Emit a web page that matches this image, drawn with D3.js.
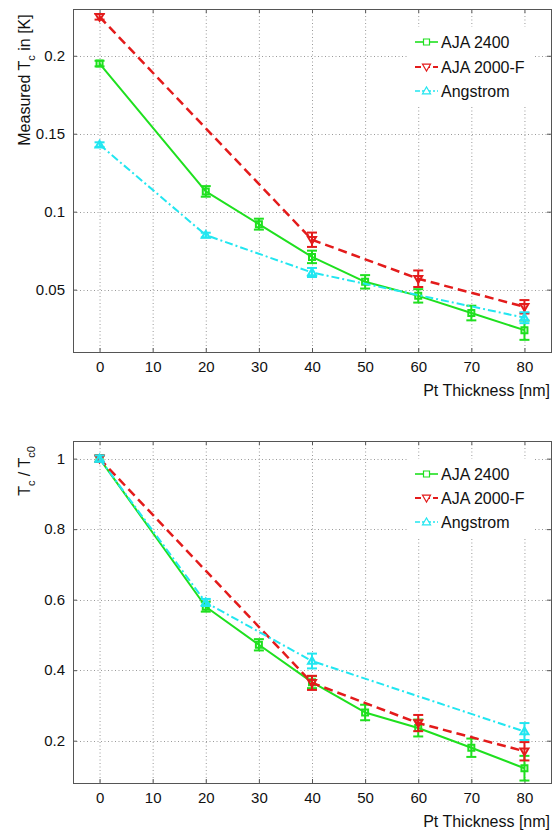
<!DOCTYPE html>
<html>
<head>
<meta charset="utf-8">
<script src="https://cdn.jsdelivr.net/npm/d3@7"></script>
<style>
  html, body { margin: 0; padding: 0; background: #fff; }
  svg { display: block; font-family: "Liberation Sans", Arial, Helvetica, sans-serif; }
</style>
</head>
<body>
<svg id="chart" width="559" height="832"></svg>
<script>
// ---------- data ----------
const xTicks = [0, 10, 20, 30, 40, 50, 60, 70, 80];
const topYTicks = [0.05, 0.1, 0.15, 0.2];
const topYTickLabels = ["0.05", "0.1", "0.15", "0.2"];
const botYTicks = [0.2, 0.4, 0.6, 0.8, 1];
const botYTickLabels = ["0.2", "0.4", "0.6", "0.8", "1"];
const seriesNames = ["AJA 2400", "AJA 2000-F", "Angstrom"];

const aja2400X = [0, 20, 30, 40, 50, 60, 70, 80];
const aja2400Tc = [0.195, 0.113, 0.092, 0.071, 0.055, 0.046, 0.035, 0.024];
const aja2400TcErr = [0.0018, 0.0034, 0.0035, 0.004, 0.0043, 0.0043, 0.0047, 0.0062];
const aja2400Norm = [1, 0.580, 0.472, 0.366, 0.280, 0.236, 0.180, 0.122];
const aja2400NormErr = [0.009, 0.014, 0.016, 0.017, 0.022, 0.024, 0.026, 0.035];

const aja2000X = [0, 40, 60, 80];
const aja2000Tc = [0.225, 0.082, 0.057, 0.039];
const aja2000TcErr = [0.0018, 0.0046, 0.0053, 0.0043];
const aja2000Norm = [1, 0.364, 0.250, 0.170];
const aja2000NormErr = [0.009, 0.020, 0.023, 0.026];

const angX = [0, 20, 40, 80];
const angTc = [0.143, 0.085, 0.061, 0.032];
const angTcErr = [0.0015, 0.0015, 0.0029, 0.0035];
const angNorm = [1, 0.592, 0.426, 0.226];
const angNormErr = [0.009, 0.010, 0.021, 0.024];

// ---------- styles ----------
const styles = [
  { color: "#1fe01f", dash: null, width: 2, marker: "square" },
  { color: "#e31b1b", dash: "9,5", width: 2.5, marker: "down" },
  { color: "#22e6f0", dash: "8,3,2,3", width: 2, marker: "up" }
];

const svg = d3.select("#chart");
const FONT = 15;

function zip(xs, ys, es) { return xs.map((x, i) => ({ x, y: ys[i], e: es[i] })); }

function markerPath(type, cx, cy) {
  if (type === "square") {
    const s = 3;
    return `M${cx - s},${cy - s}H${cx + s}V${cy + s}H${cx - s}Z`;
  }
  const h = 4;
  if (type === "down") return `M${cx - h},${cy - h * 0.7}L${cx + h},${cy - h * 0.7}L${cx},${cy + h}Z`;
  return `M${cx - h},${cy + h * 0.7}L${cx + h},${cy + h * 0.7}L${cx},${cy - h}Z`;
}

function drawPanel(cfg) {
  const { top, bottom, yDomain, yTicks, yTickLabels, series, legendRows, ylabel, ylabelY, ylabelX } = cfg;
  const left = 73, right = 551;
  const x = d3.scaleLinear().domain([-5, 85]).range([left, right]);
  const y = d3.scaleLinear().domain(yDomain).range([bottom, top]);
  const g = svg.append("g");

  // grid
  const grid = g.append("g").attr("stroke", "#9a9a9a").attr("stroke-width", 1).attr("stroke-dasharray", "1,2.5");
  xTicks.forEach(t => grid.append("line").attr("x1", x(t) + 0.5).attr("x2", x(t) + 0.5).attr("y1", top).attr("y2", bottom));
  yTicks.forEach(t => grid.append("line").attr("y1", Math.round(y(t)) + 0.5).attr("y2", Math.round(y(t)) + 0.5).attr("x1", left).attr("x2", right));

  // axes via d3.axis (inward ticks)
  const xAxis = d3.axisBottom(x).tickValues(xTicks).tickSize(-4).tickPadding(9).tickFormat(d3.format("d"));
  const yAxis = d3.axisLeft(y).tickValues(yTicks).tickSize(-4).tickPadding(8).tickFormat((d, i) => yTickLabels[i]);
  const gx = g.append("g").attr("transform", `translate(0,${bottom})`).call(xAxis);
  const gy = g.append("g").attr("transform", `translate(${left},0)`).call(yAxis);
  [gx, gy].forEach(a => {
    a.select(".domain").remove();
    a.selectAll(".tick line").attr("stroke", "#555");
    a.selectAll(".tick text").attr("font-size", FONT).attr("fill", "#111")
      .attr("font-family", "Liberation Sans, Arial, sans-serif");
  });
  gx.selectAll(".tick text").attr("dy", "0.71em");
  // top / right ticks
  const gt = g.append("g").attr("transform", `translate(0,${top})`).call(d3.axisTop(x).tickValues(xTicks).tickSize(-4).tickFormat(""));
  const gr = g.append("g").attr("transform", `translate(${right},0)`).call(d3.axisRight(y).tickValues(yTicks).tickSize(-4).tickFormat(""));
  [gt, gr].forEach(a => { a.select(".domain").remove(); a.selectAll(".tick line").attr("stroke", "#555"); });

  // box
  g.append("rect").attr("x", left + 0.5).attr("y", top + 0.5).attr("width", right - left).attr("height", bottom - top)
    .attr("fill", "none").attr("stroke", "#555").attr("stroke-width", 1);

  // series
  const line = d3.line().x(d => x(d.x)).y(d => y(d.y));
  series.forEach((data, si) => {
    const st = styles[si];
    const sg = g.append("g");
    sg.append("path").datum(data).attr("d", line).attr("fill", "none")
      .attr("stroke", st.color).attr("stroke-width", st.width)
      .attr("stroke-dasharray", st.dash).attr("stroke-linejoin", "round");
    data.forEach(d => {
      const cx = x(d.x), y1 = y(d.y - d.e), y2 = y(d.y + d.e);
      sg.append("line").attr("x1", cx).attr("x2", cx).attr("y1", y1).attr("y2", y2).attr("stroke", st.color).attr("stroke-width", 2);
      sg.append("line").attr("x1", cx - 5).attr("x2", cx + 5).attr("y1", y1).attr("y2", y1).attr("stroke", st.color).attr("stroke-width", 2);
      sg.append("line").attr("x1", cx - 5).attr("x2", cx + 5).attr("y1", y2).attr("y2", y2).attr("stroke", st.color).attr("stroke-width", 2);
      sg.append("path").attr("d", markerPath(st.marker, cx, y(d.y))).attr("fill", "none")
        .attr("stroke", st.color).attr("stroke-width", 2);
    });
  });

  // legend
  const lg = g.append("g");
  lg.append("rect").attr("x", 408).attr("y", legendRows[0] - 15).attr("width", 125)
    .attr("height", legendRows[2] - legendRows[0] + 30).attr("fill", "#fff");
  seriesNames.forEach((name, i) => {
    const st = styles[i];
    const ry = legendRows[i];
    lg.append("line").attr("x1", 415).attr("x2", 438).attr("y1", ry).attr("y2", ry)
      .attr("stroke", st.color).attr("stroke-width", st.width === 2.5 ? 2 : 1.6)
      .attr("stroke-dasharray", st.dash ? (i === 1 ? "6,3" : "5,2,2,2") : null);
    lg.append("path").attr("d", markerPath(st.marker, 426.5, ry)).attr("fill", "#fff")
      .attr("stroke", st.color).attr("stroke-width", 1.2);
    lg.append("text").attr("x", 441).attr("y", ry + 5.5).attr("font-size", 16).attr("fill", "#111").text(name);
  });

  // x label
  g.append("text").attr("x", 550).attr("y", bottom + 44).attr("text-anchor", "end")
    .attr("font-size", 16).attr("fill", "#111").text("Pt Thickness [nm]");

  // y label
  const yl = g.append("text").attr("transform", `translate(${ylabelX},${ylabelY}) rotate(-90)`)
    .attr("text-anchor", "middle").attr("font-size", 16).attr("fill", "#111");
  ylabel(yl);
}

drawPanel({
  top: 9, bottom: 352, yDomain: [0.01, 0.23], yTicks: topYTicks, yTickLabels: topYTickLabels,
  series: [zip(aja2400X, aja2400Tc, aja2400TcErr), zip(aja2000X, aja2000Tc, aja2000TcErr), zip(angX, angTc, angTcErr)],
  legendRows: [42, 67, 91], ylabelX: 30, ylabelY: 80,
  ylabel: t => {
    t.append("tspan").text("Measured T");
    t.append("tspan").attr("dy", 5).attr("font-size", 11).text("c");
    t.append("tspan").attr("dy", -5).text(" in [K]");
  }
});

drawPanel({
  top: 441, bottom: 783, yDomain: [0.08, 1.05], yTicks: botYTicks, yTickLabels: botYTickLabels,
  series: [zip(aja2400X, aja2400Norm, aja2400NormErr), zip(aja2000X, aja2000Norm, aja2000NormErr), zip(angX, angNorm, angNormErr)],
  legendRows: [474, 498, 522], ylabelX: 30, ylabelY: 471,
  ylabel: t => {
    t.append("tspan").text("T");
    t.append("tspan").attr("dy", 5).attr("font-size", 11).text("c");
    t.append("tspan").attr("dy", -5).text(" / T");
    t.append("tspan").attr("dy", 5).attr("font-size", 11).text("c0");
  }
});
</script>
</body>
</html>
